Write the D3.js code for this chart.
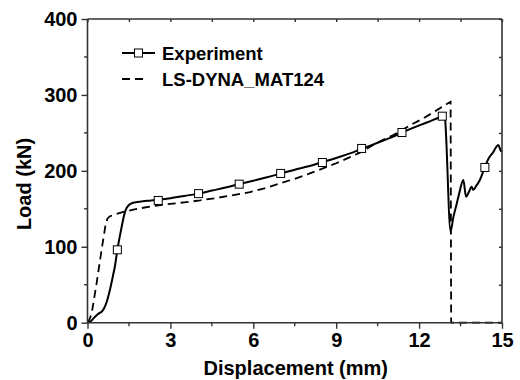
<!DOCTYPE html>
<html>
<head>
<meta charset="utf-8">
<script src="https://cdn.jsdelivr.net/npm/d3@7"></script>
<style>
  body { margin: 0; background: #fff; }
  svg text { font-family: "Liberation Sans", Arial, sans-serif; font-weight: bold; fill: #000; }
</style>
</head>
<body>
<svg id="chart" width="520" height="380"></svg>
<script>
// experiment curve (displacement mm, load kN)
const expDisp = [0, 0.09, 0.25, 0.4, 0.5, 0.6, 0.7, 0.81, 0.9, 1.0, 1.08, 1.16, 1.24, 1.32, 1.4, 1.5, 1.65, 1.8, 2.0, 2.3, 2.56,
	3.0, 3.5, 4.02, 4.5, 5.0, 5.49, 6.0, 6.5, 6.99, 7.5, 8.0, 8.5, 9.0, 9.5, 9.92, 10.5, 11.0, 11.38, 11.8, 12.3, 12.84, 12.92,
	12.94, 13.14, 13.24, 13.35, 13.45, 13.6, 13.7, 13.8, 13.9, 13.96, 14.08, 14.2, 14.38, 14.51, 14.69, 14.8, 14.87, 14.95, 15.0];
const expLoad = [0, 1, 7, 12, 14, 19, 28, 43, 58, 76, 96, 112, 127, 141, 150, 155, 158, 159, 160, 161, 162,
	164, 167, 170, 174, 178, 182.5, 187, 191.5, 196.5, 201.5, 206, 211.5, 217, 223, 229, 237, 244, 250.5, 257, 264, 272, 273,
	268, 120, 139, 155, 170, 188, 166, 172, 179, 175, 181, 188, 205, 216, 225, 232, 234, 227, 225];

// square markers on the experiment curve
const markDisp = [1.08, 2.56, 4.02, 5.49, 6.99, 8.5, 9.92, 11.38, 12.84, 14.38];
const markLoad = [96, 161, 170, 182.5, 196.6, 211, 229.5, 250.5, 272, 204.5];

// LS-DYNA MAT124 simulation
const simDisp = [0, 0.08, 0.15, 0.33, 0.51, 0.65, 0.72, 0.8, 0.94, 1.3, 1.66, 2.26, 2.87, 3.5, 4.07, 4.7, 5.28, 5.88,
	6.5, 7.0, 7.5, 8.0, 8.5, 9.0, 9.5, 9.86, 10.2, 10.53, 11.0, 11.31, 11.67, 12.15, 12.6, 13.0, 13.14, 13.16, 15.0];
const simLoad = [0, 5, 12, 52, 96, 128, 137, 140, 142, 146, 149, 153, 156, 158.5, 161, 164.5, 168, 172,
	178, 184, 189.5, 196, 203, 210, 218, 224, 231, 238, 246, 252, 260, 269, 279, 288, 291, 0, 0];

const xTicks = [0, 3, 6, 9, 12, 15];
const yTicks = [0, 100, 200, 300, 400];
const legendNames = ['Experiment', 'LS-DYNA_MAT124'];

const svg = d3.select('#chart');
const x = d3.scaleLinear().domain([0, 15]).range([87.5, 502]);
const y = d3.scaleLinear().domain([0, 400]).range([322.7, 19]);

const frame = '#333';

// curves
const expPts = expDisp.map((d, i) => [d, expLoad[i]]);
const simPts = simDisp.map((d, i) => [d, simLoad[i]]);

svg.append('path')
	.datum(simPts)
	.attr('fill', 'none')
	.attr('stroke', '#000')
	.attr('stroke-width', 1.8)
	.attr('stroke-dasharray', '8,5')
	.attr('d', d3.line().x(d => x(d[0])).y(d => y(d[1])));

svg.append('path')
	.datum(expPts)
	.attr('fill', 'none')
	.attr('stroke', '#000')
	.attr('stroke-width', 2)
	.attr('d', d3.line().curve(d3.curveMonotoneX).x(d => x(d[0])).y(d => y(d[1])));

svg.selectAll('.mark')
	.data(markDisp)
	.enter()
	.append('rect')
	.attr('class', 'mark')
	.attr('x', d => x(d) - 4)
	.attr('y', (_, i) => y(markLoad[i]) - 4)
	.attr('width', 8)
	.attr('height', 8)
	.attr('fill', '#fff')
	.attr('stroke', '#000')
	.attr('stroke-width', 1);

// axes
const xMinor = d3.range(1.5, 15, 3);
const yMinor = d3.range(50, 400, 100);

const axBottom = svg.append('g').attr('transform', `translate(0,${y(0)})`)
	.call(d3.axisBottom(x).tickValues(xTicks).tickSize(6).tickPadding(4).tickFormat(d3.format('d')));
const axLeft = svg.append('g').attr('transform', `translate(${x(0)},0)`)
	.call(d3.axisLeft(y).tickValues(yTicks).tickSize(6).tickPadding(4).tickFormat(d3.format('d')));
const axTop = svg.append('g').attr('transform', `translate(0,${y(400)})`)
	.call(d3.axisTop(x).tickValues(xTicks.concat(xMinor)).tickSize(-3).tickFormat(''));
const axRight = svg.append('g').attr('transform', `translate(${x(15)},0)`)
	.call(d3.axisRight(y).tickValues(yTicks.concat(yMinor)).tickSize(-3).tickFormat(''));

axBottom.append('g').selectAll('line').data(xMinor).enter().append('line')
	.attr('x1', d => x(d)).attr('x2', d => x(d)).attr('y1', 0).attr('y2', 3.5);
axLeft.append('g').selectAll('line').data(yMinor).enter().append('line')
	.attr('y1', d => y(d)).attr('y2', d => y(d)).attr('x1', 0).attr('x2', -3.5);

[axBottom, axLeft, axTop, axRight].forEach(g => {
	g.select('.domain').attr('stroke', frame).attr('stroke-width', 1.6);
	g.selectAll('line').attr('stroke', frame).attr('stroke-width', 1.4);
	g.selectAll('text').attr('font-size', 20).attr('font-family', null).attr('fill', '#000');
});
axBottom.selectAll('.domain').attr('d', `M${x(0)},0H${x(15)}`);
axLeft.selectAll('.domain').attr('d', `M0,${y(0)}V${y(400)}`);
axTop.selectAll('.domain').attr('d', `M${x(0)},0H${x(15)}`);
axRight.selectAll('.domain').attr('d', `M0,${y(0)}V${y(400)}`);

// axis titles
svg.append('text')
	.attr('x', (x(0) + x(15)) / 2 + 1)
	.attr('y', 375)
	.attr('text-anchor', 'middle')
	.attr('font-size', 20)
	.text('Displacement (mm)');

svg.append('text')
	.attr('transform', 'translate(31,184) rotate(-90)')
	.attr('text-anchor', 'middle')
	.attr('font-size', 20)
	.text('Load (kN)');

// legend
const legend = svg.append('g');
legendNames.forEach((name, i) => {
	const ly = 53 + i * 26;
	legend.append('line')
		.attr('x1', 122).attr('x2', i === 0 ? 155 : 148)
		.attr('y1', ly).attr('y2', ly)
		.attr('stroke', '#000')
		.attr('stroke-width', i === 0 ? 2 : 1.8)
		.attr('stroke-dasharray', i === 0 ? null : '8,5');
	if (i === 0) {
		legend.append('rect')
			.attr('x', 134.5).attr('y', ly - 4)
			.attr('width', 8).attr('height', 8)
			.attr('fill', '#fff').attr('stroke', '#000');
	}
	legend.append('text')
		.attr('x', 162)
		.attr('y', ly + 6.5)
		.attr('font-size', 18.5)
		.text(name);
});
</script>
</body>
</html>
